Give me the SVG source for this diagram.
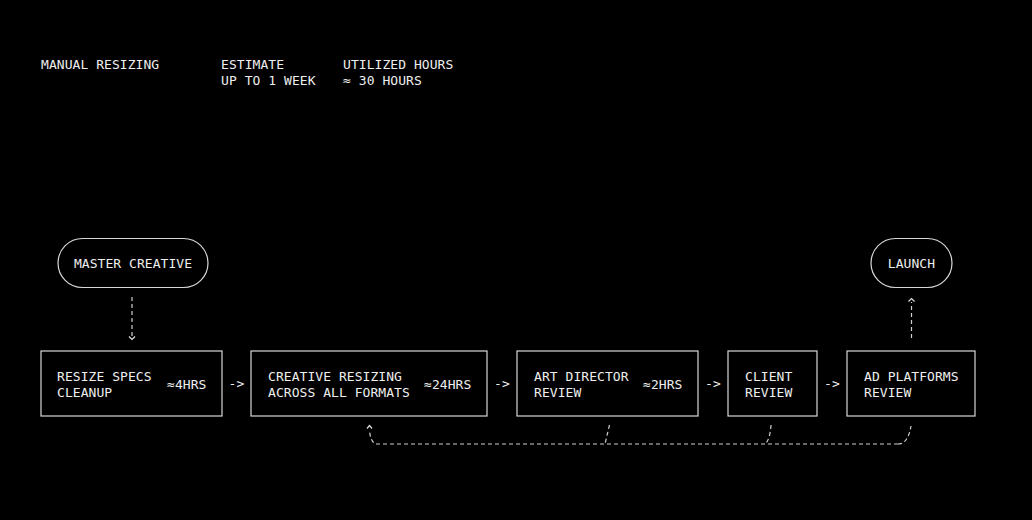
<svg xmlns="http://www.w3.org/2000/svg" width="1032" height="520" viewBox="0 0 1032 520">
<style>
text{font-family:"DejaVu Sans Mono","Liberation Mono",monospace;font-size:13px;fill:#eeeeee;letter-spacing:0.05px}
.box{fill:none;stroke:#d8d8d8;stroke-width:1.2}
.dash{fill:none;stroke:#cfcfcf;stroke-width:1.2;stroke-dasharray:4 3}
.head{fill:none;stroke:#e0e0e0;stroke-width:1.2}
.mid{text-anchor:middle}
</style>
<rect width="1032" height="520" fill="#000"/>
<g id="header">
<text x="41" y="69">MANUAL RESIZING</text>
<text x="221" y="69">ESTIMATE</text>
<text x="221" y="85">UP TO 1 WEEK</text>
<text x="343" y="69">UTILIZED HOURS</text>
<text x="343" y="85">≈ 30 HOURS</text>
</g>
<g id="master-creative">
<rect class="box" x="58" y="238.5" width="150" height="49" rx="24.5"/>
<text class="mid" x="133" y="268">MASTER CREATIVE</text>
</g>
<g id="launch">
<rect class="box" x="871" y="238.5" width="81" height="49" rx="24.5"/>
<text class="mid" x="911.5" y="268">LAUNCH</text>
</g>
<g id="resize-specs">
<rect class="box" x="41" y="351" width="181" height="65"/>
<text x="57" y="381">RESIZE SPECS</text>
<text x="57" y="397">CLEANUP</text>
<text x="167" y="389">≈4HRS</text>
</g>
<g id="creative-resizing">
<rect class="box" x="251" y="351" width="236" height="65"/>
<text x="268" y="381">CREATIVE RESIZING</text>
<text x="268" y="397">ACROSS ALL FORMATS</text>
<text x="424" y="389">≈24HRS</text>
</g>
<g id="art-director">
<rect class="box" x="517" y="351" width="181" height="65"/>
<text x="534" y="381">ART DIRECTOR</text>
<text x="534" y="397">REVIEW</text>
<text x="643" y="389">≈2HRS</text>
</g>
<g id="client-review">
<rect class="box" x="728" y="351" width="89" height="65"/>
<text x="745" y="381">CLIENT</text>
<text x="745" y="397">REVIEW</text>
</g>
<g id="ad-platforms">
<rect class="box" x="847" y="351" width="128" height="65"/>
<text x="864" y="381">AD PLATFORMS</text>
<text x="864" y="397">REVIEW</text>
</g>
<g id="connectors">
<text class="mid" x="236.5" y="388">-&gt;</text>
<text class="mid" x="502" y="388">-&gt;</text>
<text class="mid" x="713" y="388">-&gt;</text>
<text class="mid" x="832" y="388">-&gt;</text>
<line class="dash" x1="132" y1="297" x2="132" y2="336"/>
<polyline class="head" points="129,336.5 132,339.5 135,336.5"/>
<line class="dash" x1="911.5" y1="338" x2="911.5" y2="302"/>
<polyline class="head" points="908.5,301.5 911.5,298.5 914.5,301.5"/>
<path class="dash" d="M898,444 Q908,444 911,426"/>
<path class="dash" d="M898,444 L375,444 Q370,440 369.5,430"/>
<polyline class="head" points="367,428.5 369.5,425.5 372,428.5"/>
<path class="dash" d="M609.5,425 L605,444"/>
<path class="dash" d="M771,425 Q770,440 765,444"/>
</g>
</svg>
